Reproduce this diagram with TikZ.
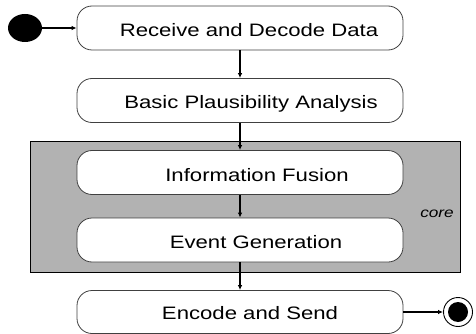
\documentclass[tikz,border=0pt]{standalone}
\usepackage{fontspec}
\usepackage{graphicx}
\setmainfont{Liberation Sans}
\usetikzlibrary{arrows.meta,shapes.geometric}
\tikzset{
  actbox/.style={draw=black!75, line width=0.8pt, rounded corners=15pt, fill=white,
    minimum width=326pt, minimum height=44pt, inner sep=0pt},
  acttext/.style={anchor=base, inner sep=0pt, font=\fontsize{18}{20}\selectfont},
  arr/.style={line width=1.2pt, -{Latex[length=5pt,width=4.5pt]}},
}
\newcommand{\widetxt}[1]{\scalebox{1.23}[1]{#1}}
\begin{document}
\begin{tikzpicture}[x=1pt,y=-1pt]
\useasboundingbox (0,0) rectangle (476,334);
\node (core) [draw=black, line width=0.8pt, fill=black!30, minimum width=430pt, minimum height=131pt, inner sep=0pt] at (245,206.5) {};
\node (corelbl) [inner sep=0pt, font=\fontsize{14}{16}\selectfont\itshape] at (437,214) {\widetxt{core}};

\node (b1) [actbox] at (240,28) {};
\node (b2) [actbox] at (240,100.5) {};
\node (b3) [actbox] at (240,172.5) {};
\node (b4) [actbox] at (240,240) {};
\node (b5) [actbox, minimum height=43pt] at (240,312) {};

\node (t1) [acttext] at (249,36.5) {\widetxt{Receive and Decode Data}};
\node (t2) [acttext] at (251,109) {\widetxt{Basic Plausibility Analysis}};
\node (t3) [acttext] at (257,181) {\widetxt{Information Fusion}};
\node (t4) [acttext] at (256,248.5) {\widetxt{Event Generation}};
\node (t5) [acttext] at (250,319.5) {\widetxt{Encode and Send}};

\node (start) [ellipse, fill=black, minimum width=34pt, minimum height=28pt, inner sep=0pt] at (25,28) {};
\node (endo) [circle, draw=black, line width=0.9pt, fill=white, minimum size=29pt, inner sep=0pt] at (458,312) {};
\node (endi) [circle, fill=black, minimum size=20pt, inner sep=0pt] at (endo.center) {};

\draw[arr] (start.east) -- (b1.west);
\draw[arr] (b1.south) -- (b2.north);
\draw[arr] (b2.south) -- (b3.north);
\draw[arr] (b3.south) -- (b4.north);
\draw[arr] (b4.south) -- (b5.north);
\draw[arr] (b5.east) -- (endo.west);
\end{tikzpicture}
\end{document}
